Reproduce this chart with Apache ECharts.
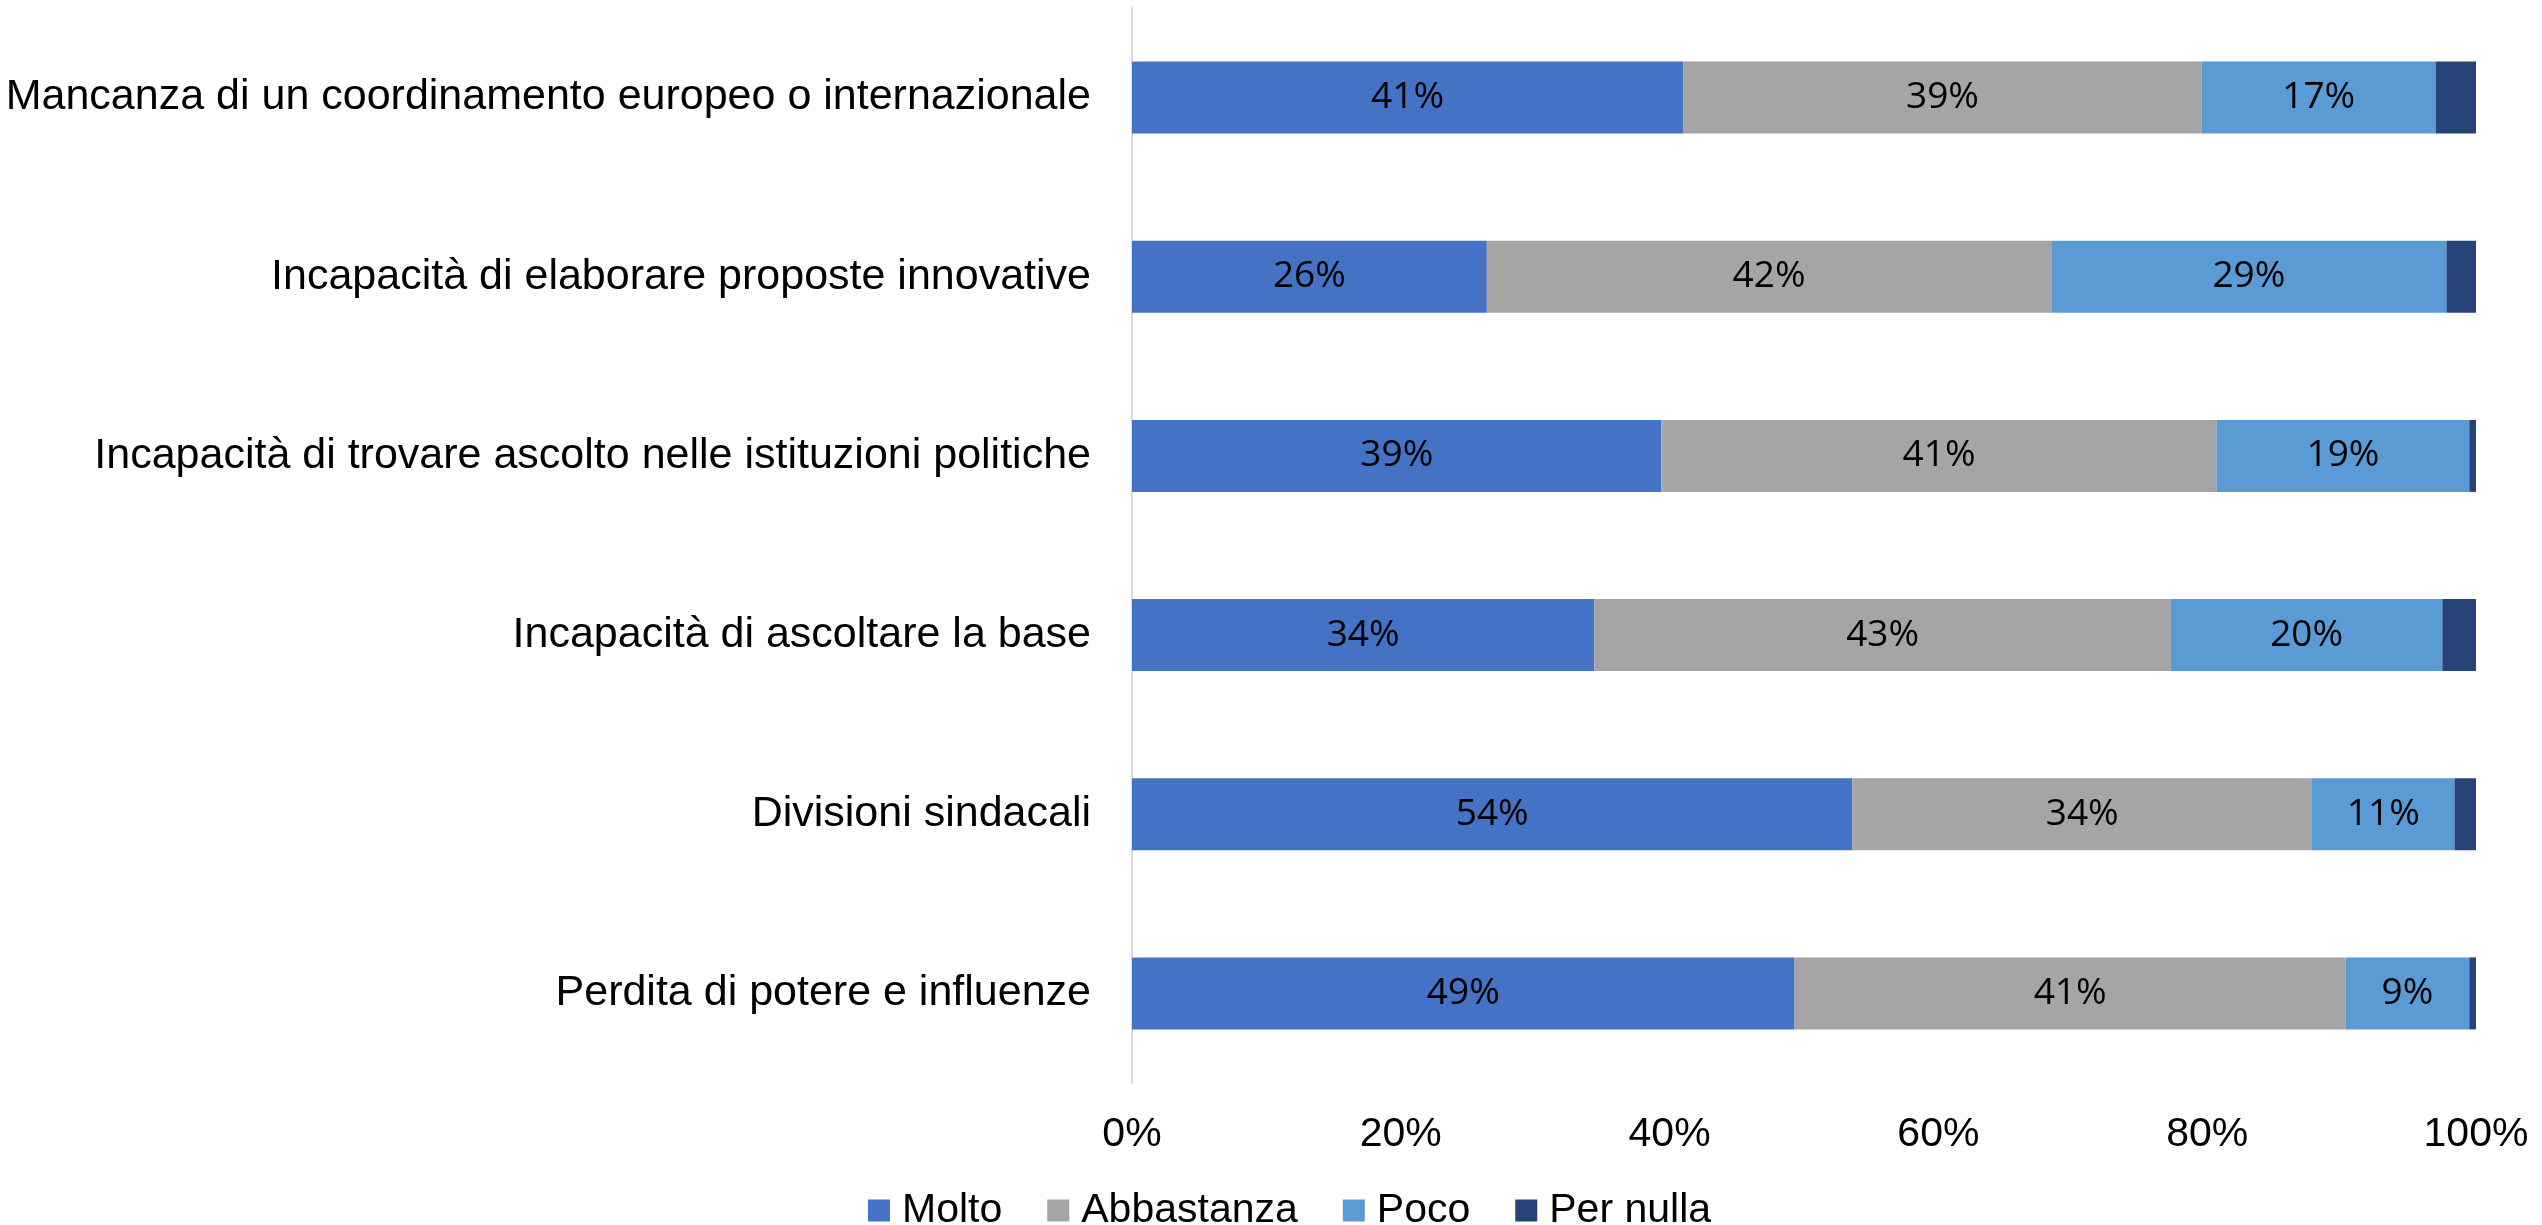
<!DOCTYPE html>
<html>
<head>
<meta charset="utf-8">
<script src="https://cdn.jsdelivr.net/npm/echarts@6/dist/echarts.min.js"></script>
<style>
  html, body { margin: 0; padding: 0; background: #fff; }
  #chart { width: 2542px; height: 1225px; }
</style>
</head>
<body>
<div id="chart"></div>
<script>
  // categories, top to bottom
  const categories = [
    'Mancanza di un coordinamento europeo o internazionale',
    'Incapacità di elaborare proposte innovative',
    'Incapacità di trovare ascolto nelle istituzioni politiche',
    'Incapacità di ascoltare la base',
    'Divisioni sindacali',
    'Perdita di potere e influenze'
  ];
  const molto       = [41.0, 26.4, 39.4, 34.4, 53.6, 49.3];
  const abbastanza  = [38.6, 42.0, 41.3, 42.9, 34.2, 41.0];
  const poco        = [17.4, 29.4, 18.8, 20.2, 10.6, 9.2];
  const perNulla    = [3.0, 2.2, 0.5, 2.5, 1.6, 0.5];
  const seriesNames = ['Molto', 'Abbastanza', 'Poco', 'Per nulla'];
  const colors = ['#4472C4', '#A5A5A5', '#5B9BD5', '#264478'];

  const axisFont = 'Liberation Sans, Arial, sans-serif';

  function makeSeries(name, data, color, showLabel) {
    return {
      name: name,
      type: 'bar',
      stack: 'tot',
      barWidth: 72,
      data: data,
      itemStyle: { color: color },
      label: {
        show: showLabel,
        position: 'inside',
        color: '#000',
        fontFamily: 'Open Sans, sans-serif',
        fontSize: 37,
        formatter: p => Math.round(p.value) + '%'
      }
    };
  }

  const chart = echarts.init(document.getElementById('chart'));
  chart.setOption({
    animation: false,
    color: colors,
    grid: { left: 1132, right: 66, top: 8, bottom: 142 },
    legend: {
      data: seriesNames,
      left: 863,
      top: 1185,
      icon: 'rect',
      itemWidth: 22,
      itemHeight: 22,
      itemGap: 45,
      textStyle: { fontFamily: axisFont, fontSize: 41, color: '#000', padding: [0, 0, 0, 7] }
    },
    xAxis: {
      type: 'value',
      min: 0,
      max: 100,
      interval: 20,
      axisLine: { show: false },
      axisTick: { show: false },
      splitLine: { show: false },
      axisLabel: {
        formatter: '{value}%',
        fontFamily: axisFont,
        fontSize: 41,
        color: '#000',
        margin: 31
      }
    },
    yAxis: {
      type: 'category',
      inverse: true,
      data: categories,
      axisLine: { show: true, lineStyle: { color: '#D9D9D9', width: 2 } },
      axisTick: { show: false },
      axisLabel: {
        fontFamily: axisFont,
        fontSize: 43,
        color: '#000',
        margin: 41
      }
    },
    series: [
      makeSeries(seriesNames[0], molto, colors[0], true),
      makeSeries(seriesNames[1], abbastanza, colors[1], true),
      makeSeries(seriesNames[2], poco, colors[2], true),
      makeSeries(seriesNames[3], perNulla, colors[3], false)
    ]
  });
</script>
</body>
</html>
